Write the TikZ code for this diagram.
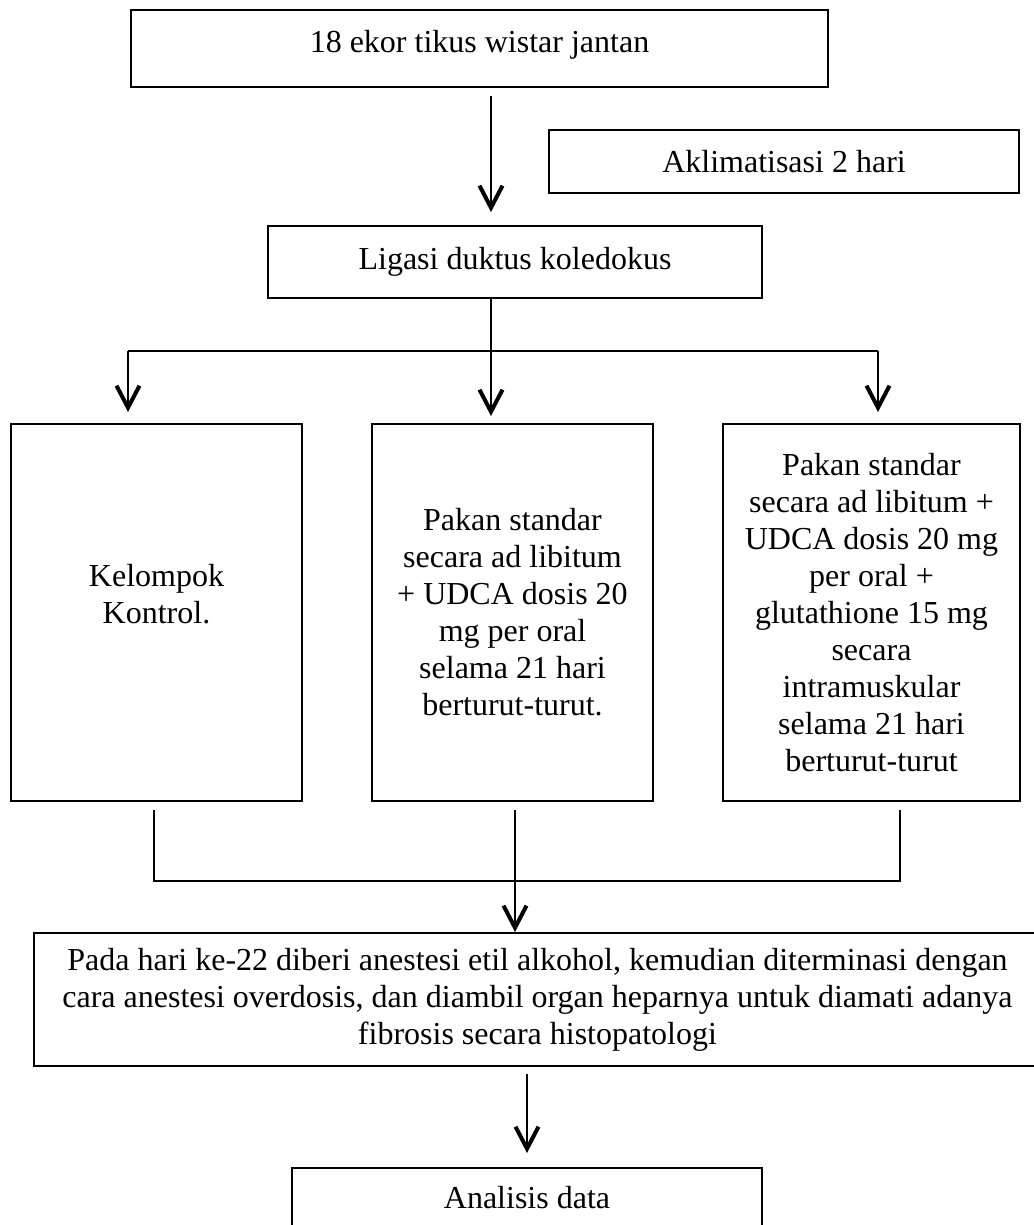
\documentclass[tikz,border=0pt]{standalone}
\usepackage{fontspec}
\setmainfont{Liberation Serif}
\usetikzlibrary{arrows.meta,calc}
\tikzset{
  kotak/.style={draw=black, line width=1pt, inner sep=0pt, align=center, font=\fontsize{16}{18.5}\selectfont},
  panah/.style={-{Straight Barb[length=11pt,width=11.5pt,line width=2pt]}, line width=1pt},
  garis/.style={line width=1pt},
}

\begin{document}
\begin{tikzpicture}[x=0.5pt,y=-0.5pt]
\useasboundingbox (0,0) rectangle (1033,1225);
\node[kotak, minimum width=348.5pt, minimum height=38.5pt, text height=11pt, text depth=7pt] (tikus) at (479.5,48.5) {18 ekor tikus wistar jantan};
\node[kotak, minimum width=235pt, minimum height=31.5pt] (aklim) at (784,161.5) {Aklimatisasi 2 hari};
\node[kotak, minimum width=247pt, minimum height=36pt] (ligasi) at (515,262) {Ligasi duktus koledokus};

\node[kotak, minimum width=145.5pt, minimum height=188.5pt] (kontrol) at (156.5,612.5) {Kelompok\\Kontrol.\\~};
\node[kotak, minimum width=140.5pt, minimum height=188.5pt] (udca) at (512.5,612.5) {Pakan standar\\secara ad libitum\\+ UDCA dosis 20\\mg per oral\\selama 21 hari\\berturut-turut.};
\node[kotak, minimum width=148.5pt, minimum height=188.5pt] (gsh) at (871.5,612.5) {Pakan standar\\secara ad libitum +\\UDCA dosis 20 mg\\per oral +\\glutathione 15 mg\\secara\\intramuskular\\selama 21 hari\\berturut-turut};

\node[kotak, minimum width=503.5pt, minimum height=66.5pt] (anestesi) at (537.5,999.5) {Pada hari ke-22 diberi anestesi etil alkohol, kemudian diterminasi dengan\\cara anestesi overdosis, dan diambil organ heparnya untuk diamati adanya\\fibrosis secara histopatologi};
\node[kotak, minimum width=235pt, minimum height=40pt, text height=11pt, text depth=11pt] (analisis) at (527,1208) {Analisis data};

\draw[panah] ([xshift=5.75pt,yshift=-4pt]tikus.south) -- ([xshift=-12pt,yshift=6.5pt]ligasi.north);
\draw[panah] ([xshift=-12pt]ligasi.south) -- ([xshift=-10.75pt,yshift=3.5pt]udca.north);
\draw[garis] ([xshift=-14.25pt,yshift=36pt]kontrol.north) -- ([xshift=3.25pt,yshift=36pt]gsh.north);
\draw[panah] ([xshift=-14.25pt,yshift=36pt]kontrol.north) -- ([xshift=-14.25pt,yshift=5.5pt]kontrol.north);
\draw[panah] ([xshift=3.25pt,yshift=36pt]gsh.north) -- ([xshift=3.25pt,yshift=5.5pt]gsh.north);

\draw[garis] ([xshift=-1.25pt,yshift=-4pt]kontrol.south) |- ([xshift=14.25pt,yshift=-39.5pt]gsh.south) -- ([xshift=14.25pt,yshift=-4pt]gsh.south);
\draw[panah] ([xshift=1.25pt,yshift=-4pt]udca.south) -- ([xshift=1.25pt]udca.south |- anestesi.north);
\draw[panah] ([yshift=-3.5pt]anestesi.south -| analisis.north) -- ([yshift=7pt]analisis.north);
\end{tikzpicture}
\end{document}
